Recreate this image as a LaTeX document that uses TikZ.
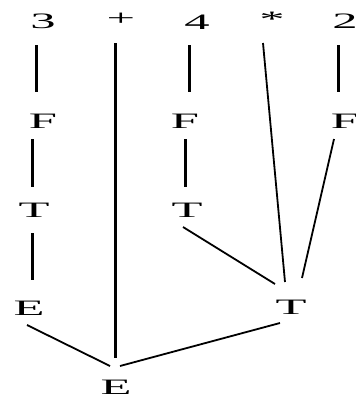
\documentclass[tikz,border=0pt]{standalone}
\usepackage{fontspec}
\setmainfont{Liberation Serif}
\usetikzlibrary{calc}
\tikzset{
  sym/.style={inner sep=0pt, font=\fontsize{22}{22}\selectfont},
  vline/.style={line width=3pt},
  dline/.style={line width=1.8pt},
}
\newcommand{\wide}[1]{\scalebox{2.3}[1]{#1}}
\begin{document}
\begin{tikzpicture}[x=1pt,y=-1pt]
\useasboundingbox[fill=white] (0,0) rectangle (356,394);
% leaves
\node[sym] (n3) at (43,21) {\wide{3}};
\node[sym] (plus) at (121,19) {\wide{+}};
\node[sym] (n4) at (197,22) {\wide{4}};
\node[sym] (star) at (272,19) {\wide{*}};
\node[sym] (n2) at (345,21) {\wide{2}};
% inner nodes
\node[sym] (f1) at (43,121) {\wide{F}};
\node[sym] (f2) at (185,121) {\wide{F}};
\node[sym] (f3) at (345,121) {\wide{F}};
\node[sym] (t1) at (34,210) {\wide{T}};
\node[sym] (t2) at (187,210) {\wide{T}};
\node[sym] (e1) at (29,308) {\wide{E}};
\node[sym] (t3) at (291,307) {\wide{T}};
\node[sym] (e) at (116,387) {\wide{E}};
% connectors
\draw[vline] ($(n3)+(-7,24)$) -- ($(f1)+(-7,-29)$);
\draw[vline] ($(plus)+(-6,24)$) -- ($(e)+(-1,-29)$);
\draw[vline] ($(n4)+(-8,23)$) -- ($(f2)+(4,-29)$);
\draw[dline] ($(star)+(-9,24)$) -- ($(t3)+(-6,-25)$);
\draw[vline] ($(n2)+(-7,24)$) -- ($(f3)+(-7,-29)$);
\draw[vline] ($(f1)+(-11,18)$) -- ($(t1)+(-2,-23)$);
\draw[vline] ($(f2)+(0,18)$) -- ($(t2)+(-2,-23)$);
\draw[dline] ($(f3)+(-11,18)$) -- ($(t3)+(11,-29)$);
\draw[vline] ($(t1)+(-2,23)$) -- ($(e1)+(3,-28)$);
\draw[dline] ($(t2)+(-4,17)$) -- ($(t3)+(-16,-23)$);
\draw[dline] ($(e1)+(-2,17)$) -- ($(e)+(-6,-21)$);
\draw[dline] ($(e)+(4,-21)$) -- ($(t3)+(-11,16)$);
\end{tikzpicture}
\end{document}
